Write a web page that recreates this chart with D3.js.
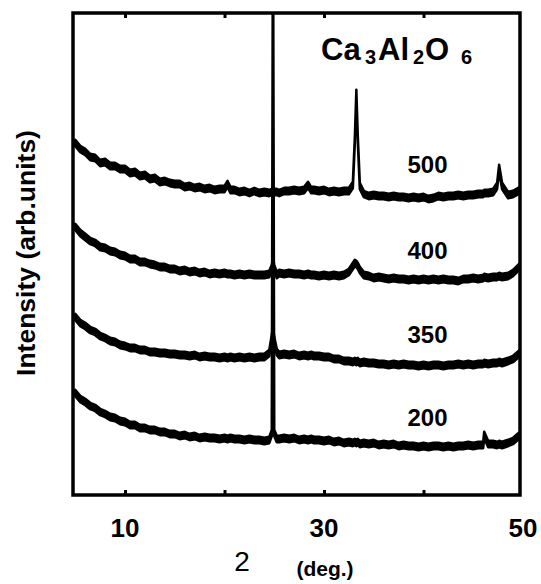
<!DOCTYPE html>
<html>
<head>
<meta charset="utf-8">
<script src="https://cdn.jsdelivr.net/npm/d3@7"></script>
<style>
  body { margin: 0; background: #fff; }
  text { font-family: "Liberation Sans", Arial, sans-serif; fill: #000; }
</style>
</head>
<body>
<svg id="chart" width="541" height="584"></svg>
<script>
// 2theta grid (deg.), shared by all four patterns
var angles = [
  5, 5.5, 6, 6.5, 7, 7.5, 8, 8.5, 9, 9.5,
  10, 10.5, 11, 11.5, 12, 12.5, 13, 13.5, 14, 14.5,
  15, 15.5, 16, 16.5, 17, 17.5, 18, 18.5, 19, 19.5,
  20, 20.3, 20.6, 21, 21.5, 22, 22.5, 23, 23.5, 24,
  24.5, 24.75, 24.87, 25, 25.25, 25.5, 26, 26.5, 27, 27.5,
  28, 28.4, 28.7, 29, 29.5, 30, 30.5, 31, 31.5, 32,
  32.5, 32.9, 33.1, 33.25, 33.4, 33.6, 34, 34.5, 35, 35.5,
  36, 36.5, 37, 37.5, 38, 38.5, 39, 39.5, 40, 40.5,
  41, 41.5, 42, 42.5, 43, 43.5, 44, 44.5, 45, 45.5,
  46, 46.1, 46.5, 47, 47.4, 47.6, 47.9, 48.5, 49, 49.7
];

// intensities (arb. units, already stacked)
var i500 = [
  352, 346, 343, 338, 337, 332, 333, 329, 329, 326,
  326, 322, 323, 319, 320, 316, 317, 313, 314, 312,
  311, 311, 308, 309, 307, 308, 306, 307, 305, 306,
  306, 311, 305, 305, 303, 304, 302, 304, 302, 303,
  302, 303, 305, 303, 303, 302, 304, 304, 305, 304,
  305, 310, 305, 305, 304, 305, 303, 304, 303, 304,
  304, 310, 355, 402, 355, 309, 301, 299, 300, 299,
  299, 298, 299, 298, 298, 297, 298, 297, 298, 296,
  297, 299, 298, 299, 299, 300, 299, 300, 300, 301,
  301, 302, 302, 303, 309, 327, 309, 300, 301, 305
];
var i400 = [
  268, 262, 258, 254, 252, 248, 247, 244, 243, 240,
  239, 236, 236, 233, 233, 231, 230, 228, 228, 226,
  226, 224, 225, 223, 224, 222, 223, 221, 222, 221,
  222, 221, 221, 220, 221, 220, 221, 220, 220, 220,
  221, 227, 233, 227, 220, 222, 221, 222, 221, 221,
  220, 221, 220, 220, 219, 220, 219, 220, 219, 220,
  223, 229, 232, 231, 229, 225, 220, 219, 217, 218,
  217, 216, 217, 216, 216, 215, 216, 215, 216, 215,
  216, 215, 216, 215, 215, 214, 216, 216, 217, 216,
  217, 218, 217, 218, 218, 219, 218, 219, 222, 229
];
var i350 = [
  178, 172, 169, 165, 163, 159, 157, 154, 153, 150,
  149, 147, 147, 145, 145, 143, 143, 142, 142, 141,
  141, 140, 140, 139, 140, 138, 139, 138, 138, 137,
  138, 137, 138, 137, 138, 137, 138, 137, 138, 138,
  142, 157, 167, 155, 143, 140, 141, 140, 141, 139,
  140, 139, 140, 139, 139, 138, 138, 136, 136, 134,
  134, 133, 134, 133, 134, 132, 133, 132, 132, 131,
  131, 130, 131, 130, 131, 130, 130, 129, 130, 129,
  130, 130, 129, 130, 130, 131, 130, 131, 130, 131,
  131, 132, 131, 132, 132, 133, 132, 134, 136, 142
];
var i200 = [
  102, 96, 93, 89, 87, 83, 81, 78, 77, 74,
  73, 70, 70, 67, 67, 65, 65, 63, 63, 61,
  61, 59, 60, 58, 59, 57, 58, 57, 57, 56,
  57, 56, 57, 56, 56, 55, 56, 55, 55, 54,
  55, 62, 620, 62, 56, 56, 57, 56, 57, 55,
  56, 55, 56, 55, 55, 54, 55, 53, 54, 52,
  53, 52, 53, 52, 53, 51, 52, 51, 52, 50,
  51, 50, 51, 49, 50, 49, 49, 48, 49, 48,
  49, 49, 48, 49, 48, 49, 49, 50, 49, 50,
  50, 60, 51, 51, 50, 51, 50, 52, 54, 60
];

var seriesNames = ["500", "400", "350", "200"];
var xTicks = [10, 20, 30, 40];
var xTickLabels = [10, 30, 50];

var svg = d3.select("#chart");

var x = d3.scaleLinear().domain([4.77, 49.7]).range([73, 520]);
var y = d3.scaleLinear().domain([0, 482]).range([495, 13]);

svg.append("clipPath").attr("id", "plotclip")
  .append("rect")
  .attr("x", x.range()[0]).attr("y", y.range()[1])
  .attr("width", x.range()[1] - x.range()[0])
  .attr("height", y.range()[0] - y.range()[1]);

// noisy traces drawn as a thin band around the read values
var band = d3.area()
  .x((d, i) => x(angles[i]))
  .y0(d => y(d) + 3.2)
  .y1(d => y(d) - 3.2);

var curves = svg.append("g").attr("clip-path", "url(#plotclip)");
[i500, i400, i350, i200].forEach(function(s) {
  curves.append("path")
    .attr("fill", "#000").attr("stroke", "#000")
    .attr("stroke-width", 2.5).attr("stroke-linejoin", "round")
    .attr("d", band(s));
});

// ticks pointing inward, top and bottom
svg.append("g").attr("transform", "translate(0," + y.range()[0] + ")")
  .call(d3.axisBottom(x).tickValues(xTicks).tickFormat("").tickSizeInner(-5).tickSizeOuter(0))
  .call(g => g.select(".domain").remove())
  .selectAll("line").attr("stroke-width", 3);
svg.append("g").attr("transform", "translate(0," + y.range()[1] + ")")
  .call(d3.axisTop(x).tickValues(xTicks).tickFormat("").tickSizeInner(-5).tickSizeOuter(0))
  .call(g => g.select(".domain").remove())
  .selectAll("line").attr("stroke-width", 3);

// frame
svg.append("rect")
  .attr("x", x.range()[0]).attr("y", y.range()[1])
  .attr("width", x.range()[1] - x.range()[0])
  .attr("height", y.range()[0] - y.range()[1])
  .attr("fill", "none").attr("stroke", "#000").attr("stroke-width", 3.5);

svg.append("g").selectAll("text")
  .data(xTickLabels).enter()
  .append("text")
  .attr("x", d => x(d)).attr("y", 537)
  .attr("text-anchor", "middle")
  .style("font-size", "26px").style("font-weight", "bold")
  .text(d => d);

// series labels
var labelLevels = [322, 236, 152, 69];
svg.append("g").selectAll("text")
  .data(seriesNames).enter()
  .append("text")
  .attr("x", x(40.4)).attr("y", (d, i) => y(labelLevels[i]))
  .attr("text-anchor", "middle")
  .style("font-size", "24px").style("font-weight", "bold")
  .text(d => d);

// compound label
var title = svg.append("text").style("font-weight", "bold").attr("y", 60);
title.append("tspan").attr("x", 321).style("font-size", "31px").text("Ca");
title.append("tspan").attr("x", 365).attr("dy", 4).style("font-size", "20px").text("3");
title.append("tspan").attr("x", 378).attr("dy", -4).style("font-size", "31px").text("Al");
title.append("tspan").attr("x", 413).attr("dy", 4).style("font-size", "20px").text("2");
title.append("tspan").attr("x", 425).attr("dy", -4).style("font-size", "31px").text("O");
title.append("tspan").attr("x", 461).attr("dy", 4).style("font-size", "20px").text("6");

// axis titles
svg.append("text")
  .attr("transform", "translate(35,253) rotate(-90)")
  .attr("text-anchor", "middle")
  .style("font-size", "26.5px").style("font-weight", "bold")
  .text("Intensity (arb.units)");

svg.append("text").attr("x", 242).attr("y", 571)
  .attr("text-anchor", "middle")
  .style("font-size", "28px")
  .text("2");
svg.append("text").attr("x", 325).attr("y", 576)
  .attr("text-anchor", "middle")
  .style("font-size", "21px").style("font-weight", "bold")
  .text("(deg.)");
</script>
</body>
</html>
